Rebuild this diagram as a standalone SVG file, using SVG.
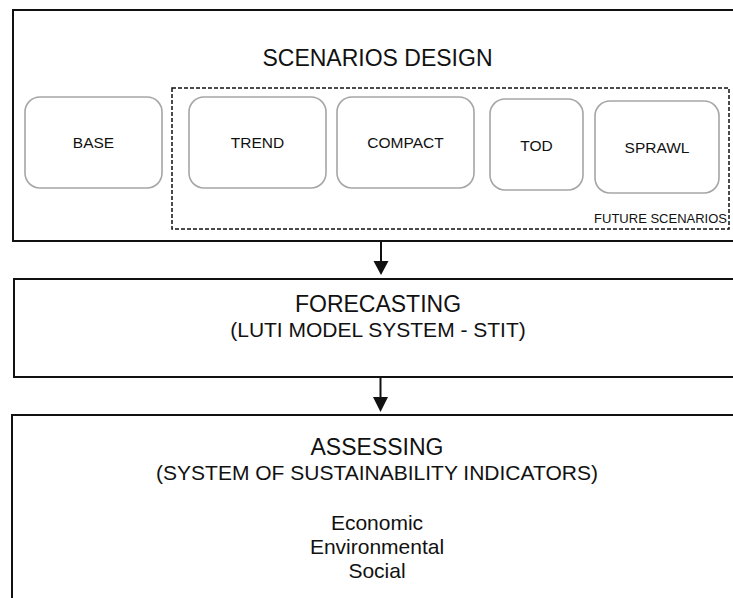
<svg xmlns="http://www.w3.org/2000/svg" width="733" height="598" viewBox="0 0 733 598">
<style>
  text { font-family: "Liberation Sans", Arial, sans-serif; fill: #111; }
  .frame { fill: #fff; stroke: #111; stroke-width: 2; }
  .scen { fill: #fff; stroke: #a6a6a6; stroke-width: 1.6; }
  .dash { fill: none; stroke: #111; stroke-width: 1.5; stroke-dasharray: 4 2; }
  .title { font-size: 23px; text-anchor: middle; }
  .sub { font-size: 21px; text-anchor: middle; }
  .lbl { font-size: 15.5px; text-anchor: middle; }
  .small { font-size: 13px; text-anchor: end; }
  .conn { stroke: #111; stroke-width: 2; fill: none; }
  .head { fill: #111; }
</style>
<rect width="733" height="598" fill="#fff"/>
<g id="scenarios-design">
  <rect class="frame" x="13" y="10" width="740" height="231"/>
  <text class="title" x="377.5" y="66">SCENARIOS DESIGN</text>
</g>
<g id="future-scenarios">
  <rect class="dash" x="172" y="88" width="557" height="141"/>
  <text class="small" x="727" y="223">FUTURE SCENARIOS</text>
</g>
<g id="base">
  <rect class="scen" x="25" y="97" width="137" height="91" rx="15"/>
  <text class="lbl" x="93.5" y="148">BASE</text>
</g>
<g id="trend">
  <rect class="scen" x="189" y="97" width="137" height="91" rx="15"/>
  <text class="lbl" x="257.5" y="148">TREND</text>
</g>
<g id="compact">
  <rect class="scen" x="337" y="97" width="137" height="91" rx="15"/>
  <text class="lbl" x="405.5" y="148">COMPACT</text>
</g>
<g id="tod">
  <rect class="scen" x="490" y="99" width="93" height="91" rx="15"/>
  <text class="lbl" x="536.5" y="151">TOD</text>
</g>
<g id="sprawl">
  <rect class="scen" x="595" y="101" width="124" height="92" rx="15"/>
  <text class="lbl" x="657" y="153">SPRAWL</text>
</g>
<g id="forecasting">
  <rect class="frame" x="14" y="279" width="740" height="98"/>
  <text class="title" x="378" y="312">FORECASTING</text>
  <text class="sub" x="378" y="337">(LUTI MODEL SYSTEM - STIT)</text>
</g>
<g id="assessing">
  <rect class="frame" x="12" y="415" width="740" height="200"/>
  <text class="title" x="377" y="455">ASSESSING</text>
  <text class="sub" x="377" y="480">(SYSTEM OF SUSTAINABILITY INDICATORS)</text>
  <text class="sub" x="377" y="530">Economic</text>
  <text class="sub" x="377" y="554">Environmental</text>
  <text class="sub" x="377" y="578">Social</text>
</g>
<g id="connectors">
  <line class="conn" x1="381" y1="241" x2="381" y2="262"/>
  <polygon class="head" points="373.5,261 388.5,261 381,275"/>
  <line class="conn" x1="380.5" y1="377" x2="380.5" y2="398"/>
  <polygon class="head" points="373,397 388,397 380.5,412"/>
</g>
</svg>
